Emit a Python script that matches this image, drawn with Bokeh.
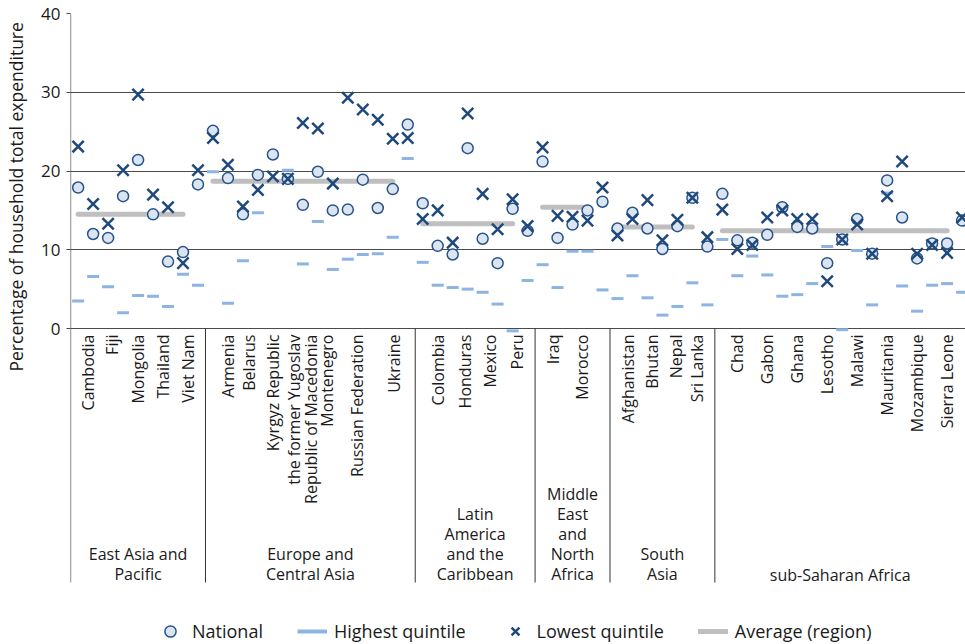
import math
import numpy as np
from bokeh.plotting import figure
from bokeh.models import FixedTicker, Legend, LegendItem, Title, Range1d
from bokeh.core.properties import value
from bokeh.embed import file_html
from bokeh.resources import INLINE

# ---------------- data ----------------
regions = ["East Asia and\nPacific", "Europe and\nCentral Asia",
           "Latin\nAmerica\nand the\nCaribbean", "Middle\nEast\nand\nNorth\nAfrica",
           "South\nAsia", "sub-Saharan Africa"]
region_sizes = [9, 14, 8, 5, 7, 17]
region_avg = [14.5, 18.7, 13.3, 15.4, 12.9, 12.4]

national = [17.9, 12.0, 11.5, 16.8, 21.4, 14.5, 8.5, 9.7, 18.3,
            25.1, 19.1, 14.5, 19.5, 22.1, 19.0, 15.7, 19.9, 15.0, 15.1, 18.9, 15.3, 17.7, 25.9,
            15.9, 10.5, 9.4, 22.9, 11.4, 8.3, 15.2, 12.4,
            21.2, 11.5, 13.2, 15.0, 16.1,
            12.7, 14.7, 12.7, 10.1, 13.0, 16.6, 10.4,
            17.1, 11.2, 10.9, 11.9, 15.4, 12.9, 12.7, 8.3, 11.3, 13.9, 9.5, 18.8, 14.1, 8.9, 10.8, 10.8, 13.7]
highest = [3.5, 6.6, 5.3, 2.0, 4.2, 4.1, 2.8, 6.9, 5.5,
           19.9, 3.2, 8.6, 14.7, float("nan"), 20.1, 8.2, 13.6, 7.5, 8.8, 9.4, 9.5, 11.6, 21.6,
           8.4, 5.5, 5.2, 5.0, 4.6, 3.1, -0.3, 6.1,
           8.1, 5.2, 9.8, 9.8, 4.9,
           3.8, 6.7, 3.9, 1.7, 2.8, 5.8, 3.0,
           11.3, 6.7, 9.2, 6.8, 4.1, 4.3, 5.7, 10.4, -0.15, 9.9, 3.0, 17.2, 5.4, 2.2, 5.5, 5.7, 4.6]
lowest = [23.1, 15.8, 13.3, 20.1, 29.7, 17.0, 15.4, 8.3, 20.1,
          24.2, 20.8, 15.5, 17.6, 19.3, 19.0, 26.1, 25.4, 18.4, 29.3, 27.8, 26.5, 24.1, 24.2,
          13.9, 15.0, 10.9, 27.3, 17.1, 12.6, 16.4, 13.0,
          23.0, 14.3, 14.2, 13.7, 17.9,
          11.8, 13.9, 16.3, 11.2, 13.8, 16.6, 11.6,
          15.1, 10.1, 10.6, 14.1, 15.0, 13.9, 13.9, 6.0, 11.3, 13.2, 9.5, 16.8, 21.2, 9.5, 10.6, 9.6, 14.1]

country_labels = ["Cambodia", "Fiji", "Mongolia", "Thailand", "Viet Nam",
                  "Armenia", "Belarus", "Kyrgyz Republic",
                  "the former Yugoslav\nRepublic of Macedonia", "Montenegro",
                  "Russian Federation", "Ukraine",
                  "Colombia", "Honduras", "Mexico", "Peru",
                  "Iraq", "Morocco",
                  "Afghanistan", "Bhutan", "Nepal", "Sri Lanka",
                  "Chad", "Gabon", "Ghana", "Lesotho", "Malawi", "Mauritania",
                  "Mozambique", "Sierra Leone"]
# slot (category index) under which each label is printed
label_slots = [0.67, 2.27, 4.0, 5.67, 7.33,
               10.0, 11.4, 13.0, 15.0, 16.6, 18.6, 21.1,
               24.0, 25.8, 27.5, 29.3,
               31.7, 33.6,
               36.7, 38.3, 39.9, 41.3,
               44, 46, 48, 50, 52, 54, 56, 58]
y_ticks = [0, 10, 20, 30, 40]

# ---------------- layout / style ----------------
FONT = value("Open Sans")
TXT = "#1a1a1a"
W, H = 965, 644
TOP_BORDER = 13
LEFT_BORDER = 70
PX_PER_UNIT = 7.875
X_START, X_END = -0.51, 59.23
frame_h = H - TOP_BORDER
Y_END = 40
Y_START = Y_END - frame_h / PX_PER_UNIT
LABEL_ZONE_BOTTOM = -254 / PX_PER_UNIT   # bottom of category label area

slots = np.arange(len(national))
starts = np.cumsum([0] + region_sizes[:-1])
ends = starts + np.array(region_sizes) - 1
bounds = starts - 0.5

p = figure(width=W, height=H, output_backend="svg", toolbar_location=None,
           x_range=Range1d(X_START, X_END), y_range=Range1d(Y_START, Y_END),
           x_axis_location=None, min_border_left=LEFT_BORDER, min_border_right=0,
           min_border_top=TOP_BORDER, min_border_bottom=0)
p.outline_line_color = None
p.background_fill_color = "white"
p.border_fill_color = "white"
p.xgrid.visible = False
p.ygrid.ticker = FixedTicker(ticks=y_ticks)
p.ygrid.grid_line_color = "#4a4a4a"
p.ygrid.grid_line_width = 1

ax = p.yaxis[0]
ax.ticker = FixedTicker(ticks=y_ticks)
ax.axis_line_color = None
ax.major_tick_line_color = "#4a4a4a"
ax.major_tick_out = 4
ax.major_tick_in = 0
ax.minor_tick_line_color = None
ax.major_label_text_font = "Open Sans"
ax.major_label_text_font_size = "17px"
ax.major_label_text_color = TXT
ax.major_label_standoff = 6

# spacer between tick labels and the y title, then the y title
p.add_layout(Title(text=" ", text_font_size="6px", standoff=2), "left")
p.add_layout(Title(text="Percentage of household total expenditure", align="left",
                   offset=273, text_font="Open Sans", text_font_size="17.5px",
                   text_font_style="normal", text_color=TXT, standoff=2), "left")

# left axis line + region separators
p.segment(x0=[bounds[0]], y0=[Y_END], x1=[bounds[0]], y1=[LABEL_ZONE_BOTTOM],
          line_color="#333333", line_width=1)
p.segment(x0=bounds[1:], y0=0, x1=bounds[1:], y1=LABEL_ZONE_BOTTOM,
          line_color="#333333", line_width=1)

# regional averages
avg_r = p.segment(x0=starts, y0=region_avg, x1=ends - 1, y1=region_avg,
                  line_color="#bfbfbf", line_width=5, line_cap="round")
# highest quintile
dash_r = p.scatter(slots, highest, marker="dash", size=12, line_color="#8db4e2", line_width=3)
dash_leg = p.segment(x0=[float("nan")], y0=[0], x1=[float("nan")], y1=[0],
                     line_color="#8db4e2", line_width=4)
# national
circ_r = p.scatter(slots, national, marker="circle", size=11, fill_color="#dbe5f1",
                   line_color="#27538a", line_width=1.5)
# lowest quintile
x_r = p.scatter(slots, lowest, marker="x", size=16, line_color="#1f497d", line_width=2.5)

# category labels
p.text(x=label_slots, y=0, text=country_labels, angle=math.pi / 2,
       text_align="right", text_baseline="middle", y_offset=6,
       text_font=FONT, text_font_size=value("16px"), text_color=TXT,
       text_line_height=0.78)

# region labels
vis_end = np.minimum(ends + 0.5, X_END)
centers = (bounds + vis_end) / 2
p.text(x=centers, y=LABEL_ZONE_BOTTOM, text=regions, text_align="center",
       text_baseline="bottom", y_offset=3,
       text_font=FONT, text_font_size=value("16px"), text_color=TXT,
       text_line_height=0.92)

legend = Legend(items=[LegendItem(label="National", renderers=[circ_r]),
                       LegendItem(label="Highest quintile", renderers=[dash_leg]),
                       LegendItem(label="Lowest quintile", renderers=[x_r]),
                       LegendItem(label="Average (region)", renderers=[avg_r])],
                orientation="horizontal", location=(85, -1))
legend.background_fill_alpha = 0
legend.border_line_color = None
legend.padding = 0
legend.margin = 0
legend.spacing = 34
legend.glyph_width = 30
legend.glyph_height = 28
legend.label_height = 28
legend.label_standoff = 7
legend.label_text_font = "Open Sans"
legend.label_text_font_size = "18px"
legend.label_text_color = TXT
p.add_layout(legend, "center")

html = file_html(p, INLINE)
open("out.html", "w").write(html)
